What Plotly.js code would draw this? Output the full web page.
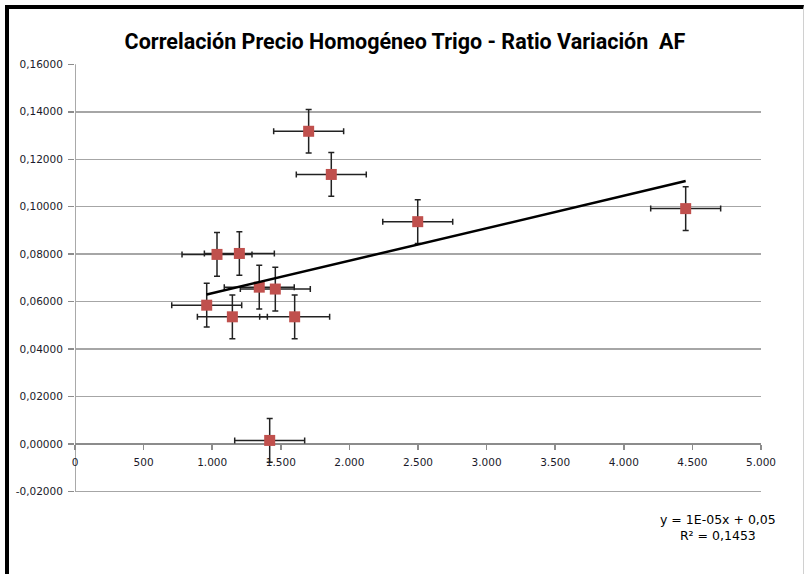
<!DOCTYPE html>
<html><head><meta charset="utf-8">
<script src="https://cdn.plot.ly/plotly-3.0.1.min.js"></script>
<style>
body{margin:0;background:#fff;}
#frame{position:absolute;left:5px;top:5px;width:799px;height:580px;border-left:4px solid #000;border-top:4px solid #000;border-right:1px solid #d0d0d0;box-sizing:border-box;pointer-events:none;}
</style>
</head><body>
<div id="chart" style="width:805px;height:574px;"></div>
<div id="frame"></div>
<script>
// Data
const precio = [1703, 1868, 2498, 1035, 1198, 1343, 1460, 960, 1147, 1601, 1419, 4451];
const ratio  = [0.1318, 0.1136, 0.0937, 0.0799, 0.0803, 0.0661, 0.0653, 0.0585, 0.0536, 0.0536, 0.0015, 0.0992];
const errPrecio = 255;
const errRatio = 0.0092;
const trendX = [960, 4451];
const trendY = [0.0630, 0.1108];
const xTickVals = [0, 500, 1000, 1500, 2000, 2500, 3000, 3500, 4000, 4500, 5000];
const xTickText = ["0", "500", "1.000", "1.500", "2.000", "2.500", "3.000", "3.500", "4.000", "4.500", "5.000"];
const yTickVals = [-0.02, 0, 0.02, 0.04, 0.06, 0.08, 0.10, 0.12, 0.14, 0.16];
const yTickText = ["-0,02000", "0,00000", "0,02000", "0,04000", "0,06000", "0,08000", "0,10000", "0,12000", "0,14000", "0,16000"];
const titleText = "Correlación Precio Homogéneo Trigo - Ratio Variación  AF";
const eqText = "y = 1E-05x + 0,05<br>R² = 0,1453";

const traces = [
  {
    type: "scatter", mode: "markers", x: precio, y: ratio,
    marker: {symbol: "square", size: 11, color: "#C0504D"},
    error_x: {type: "constant", value: errPrecio, color: "#222", thickness: 1.5, width: 3},
    error_y: {type: "constant", value: errRatio, color: "#222", thickness: 1.5, width: 3},
    showlegend: false, hoverinfo: "x+y"
  },
  {
    type: "scatter", mode: "lines", x: trendX, y: trendY,
    line: {color: "#000", width: 2.5}, showlegend: false, hoverinfo: "skip"
  }
];

const tickFont = {family: "DejaVu Sans", size: 10.5, color: "#1a1a2a"};

const layout = {
  width: 805, height: 574,
  margin: {l: 75, r: 44, t: 64, b: 79},
  paper_bgcolor: "#fff", plot_bgcolor: "rgba(0,0,0,0)",
  title: {text: "<b>" + titleText + "</b>", x: 0.503, xanchor: "center", y: 0.928, yanchor: "middle",
          font: {family: "Roboto, sans-serif", size: 21.5, color: "#000"}},
  xaxis: {
    range: [0, 5000], tickvals: xTickVals, ticktext: xTickText,
    anchor: "free", position: 0.1184,
    showline: false,
    ticks: "outside", ticklen: 5, tickcolor: "#8c8c8c", tickwidth: 1.5,
    ticklabelstandoff: 3,
    showgrid: false, zeroline: false, tickfont: tickFont
  },
  yaxis: {
    range: [-0.0215, 0.16015], tickvals: yTickVals, ticktext: yTickText,
    showline: false,
    ticks: "outside", ticklen: 6, tickcolor: "#8c8c8c", tickwidth: 1.5,
    ticklabelstandoff: 3,
    showgrid: true, gridcolor: "#a6a6a6", gridwidth: 1.5,
    zeroline: true, zerolinecolor: "#8c8c8c", zerolinewidth: 1.5, tickfont: tickFont
  },
  shapes: [{
    type: "line", layer: "below", xref: "x", x0: xTickVals[0], x1: xTickVals[0],
    yref: "y", y0: yTickVals[0], y1: yTickVals[yTickVals.length - 1],
    line: {color: "#8c8c8c", width: 1.5}
  }],
  annotations: [{
    xref: "paper", yref: "paper", x: 0.938, y: -0.075, xanchor: "center", yanchor: "middle",
    text: eqText, showarrow: false, align: "center",
    font: {family: "DejaVu Sans", size: 12.5, color: "#000"}
  }]
};

Plotly.newPlot("chart", traces, layout, {displayModeBar: false, staticPlot: true});
</script>
</body></html>
